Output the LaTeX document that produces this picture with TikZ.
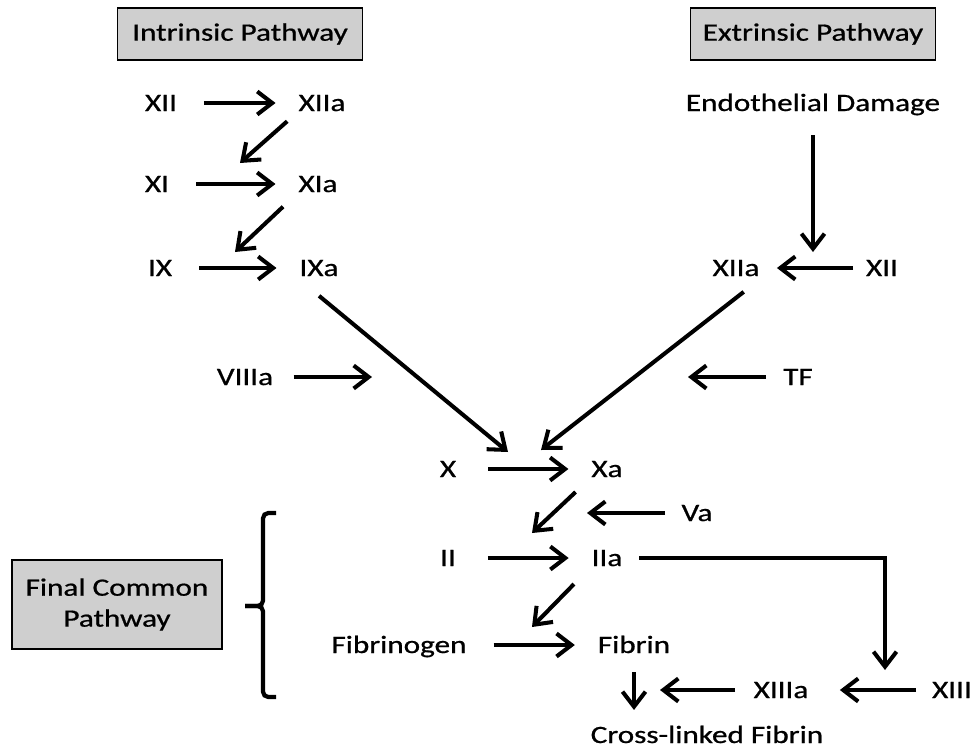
\documentclass[tikz,border=0pt]{standalone}
\usepackage{fontspec}
\setmainfont{Carlito}
\newfontfamily\labelfont{Carlito}[FakeBold=0.7]
\usetikzlibrary{arrows.meta}
\newcommand{\widetxt}[1]{\scalebox{1.25}[1]{#1}}
\tikzset{>/.tip={Straight Barb[length=3mm,width=4.6mm]},
  every node/.style={font=\labelfont\fontsize{14.2}{17.6}\selectfont},
  fac/.style={inner sep=0pt, text height=0.32cm, text depth=0pt},
  pbox/.style={draw, fill=black!19, line width=0.9pt, minimum width=4.9cm, minimum height=1.04cm},
  rx/.style={->, shorten <=5mm, shorten >=4.2mm}}

\begin{document}
\begin{tikzpicture}[line width=2.3pt]
\useasboundingbox (0,0) rectangle (19.6,-15.04);

\node[pbox] (intr) at (4.80,-0.68)  {\widetxt{Intrinsic Pathway}};
\node[pbox] (extr) at (16.26,-0.68) {\widetxt{Extrinsic Pathway}};
\node[pbox, minimum width=4.2cm, minimum height=1.78cm, align=center] (fcp) at (2.34,-12.09)
  {\widetxt{Final Common}\\\widetxt{Pathway}};

% intrinsic side
\node[fac] (XII)   at (3.22,-2.06) {\widetxt{XII}};
\node[fac] (XIIa)  at (6.44,-2.06) {\widetxt{XIIa}};
\node[fac] (XI)    at (3.14,-3.68) {\widetxt{XI}};
\node[fac] (XIa)   at (6.36,-3.68) {\widetxt{XIa}};
\node[fac] (IX)    at (3.20,-5.36) {\widetxt{IX}};
\node[fac] (IXa)   at (6.38,-5.36) {\widetxt{IXa}};
\node[fac] (VIIIa) at (4.90,-7.54) {\widetxt{VIIIa}};

% extrinsic side
\node[fac] (dmg)   at (16.26,-2.06) {\widetxt{Endothelial Damage}};
\node[fac] (xiiaR) at (14.72,-5.36) {\widetxt{XIIa}};
\node[fac] (xiiR)  at (17.64,-5.36) {\widetxt{XII}};
\node[fac] (TF)    at (15.96,-7.54) {\widetxt{TF}};

% common pathway
\node[fac] (X)      at (8.96,-9.38)   {\widetxt{X}};
\node[fac] (Xa)     at (12.14,-9.38)  {\widetxt{Xa}};
\node[fac] (Va)     at (13.94,-10.26) {\widetxt{Va}};
\node[fac] (II)     at (8.96,-11.16)  {\widetxt{II}};
\node[fac] (IIa)    at (12.14,-11.16) {\widetxt{IIa}};
\node[fac] (fgen)   at (7.98,-12.90)  {\widetxt{Fibrinogen}};
\node[fac] (Fibrin) at (12.68,-12.90) {\widetxt{Fibrin}};
\node[fac] (XIIIa)  at (15.62,-13.80) {\widetxt{XIIIa}};
\node[fac] (XIII)   at (19.04,-13.80) {\widetxt{XIII}};
\node[fac] (xfib)   at (14.14,-14.70) {\widetxt{Cross-linked Fibrin}};

\coordinate (toXI)   at (4.80,-3.26);
\coordinate (toIX)   at (4.70,-5.04);
\coordinate (toXl)   at (10.16,-9.04);
\coordinate (toXr)   at (10.82,-9.00);
\coordinate (toII)   at (10.64,-10.66);
\coordinate (toFib)  at (10.64,-12.54);
\coordinate (inVIII) at (7.44,-7.54);
\coordinate (inTF)   at (13.76,-7.54);
\coordinate (inVa)   at (11.74,-10.26);
\coordinate (endo)   at (16.26,-5.04);
\coordinate (inXIII) at (17.70,-13.40);
\coordinate (inFib)  at (13.20,-13.80);

\draw[rx] (XII) to (XIIa);
\draw[rx] (XI) to (XIa);
\draw[rx] (IX) to (IXa);
\draw[rx, shorten <=6mm] (X) to (Xa);
\draw[rx, shorten <=6mm] (II) to (IIa);
\draw[rx] (fgen) to (Fibrin);
\draw[rx, shorten <=2.2mm, shorten >=3.1mm] (xiiR) to (xiiaR);
\draw[rx, shorten <=2.8mm, shorten >=5.9mm] (XIII) to (XIIIa);

\draw[->, shorten <=3.7mm] (VIIIa) to (inVIII);
\draw[->, shorten <=3mm] (TF) to (inTF);
\draw[->, shorten <=2.9mm] (Va) to (inVa);
\draw[->, shorten <=3.3mm] (XIIIa) to (inFib);
\draw[->, shorten <=4.4mm] (dmg) to (endo);
\draw[->, shorten <=3mm] (IIa) -| (inXIII);
\draw[->, shorten <=3.4mm, shorten >=3mm] (Fibrin.south) -- (Fibrin.south |- xfib.north);

\draw[->, shorten <=2.5mm] (XIIa.south west) to (toXI);
\draw[->, shorten <=3.7mm] (XIa.south west) to (toIX);
\draw[->, shorten <=5.6mm] (IXa.south west) to (toXl);
\draw[->, shorten <=4.5mm] (xiiaR.south east) to (toXr);
\draw[->, shorten <=3.8mm] (Xa.south west) to (toII);
\draw[->, shorten <=4.5mm] (IIa.south west) to (toFib);

% bracket
\draw[line width=2.4pt, rounded corners=3pt] (5.52,-10.26) -| (5.26,-12.12) -- (4.90,-12.12);
\draw[line width=2.4pt, rounded corners=3pt] (4.90,-12.12) -- (5.26,-12.12) |- (5.52,-13.94);
\end{tikzpicture}
\end{document}
